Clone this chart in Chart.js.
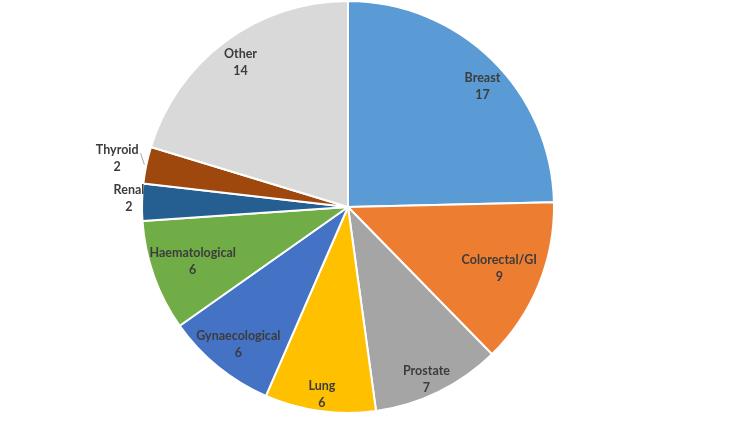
<!DOCTYPE html>
<html>
<head>
<meta charset="utf-8">
<script src="https://cdn.jsdelivr.net/npm/chart.js@4"></script>
<style>
  html, body { margin: 0; padding: 0; background: #ffffff; }
  #wrap { width: 750px; height: 422px; }
</style>
</head>
<body>
<div id="wrap"><canvas id="pieChart" width="750" height="422"></canvas></div>
<script>
// categories and counts
const categories = ["Breast", "Colorectal/GI", "Prostate", "Lung", "Gynaecological",
                    "Haematological", "Renal", "Thyroid", "Other"];
const counts = [17, 9, 7, 6, 6, 6, 2, 2, 14];

const sliceColors = ["#5B9BD5", "#ED7D31", "#A5A5A5", "#FFC000", "#4472C4",
                     "#70AD47", "#255E91", "#9E480E", "#D9D9D9"];

// where each label sits: fraction of radius, and small angle nudge (deg)
const labelFrac = [0.876, 0.793, 0.919, 0.917, 0.853, 0.799, 1.064, 1.145, 0.873];
const labelNudge = [3.8, 0, 1.6, 0.1, -0.5, 0.2, 1.0, 0.2, -0.2];
const leaderLine = [false, false, false, false, false, false, false, true, false];

// draw the name + value inside (or beside) each slice
const sliceLabels = {
    id: "sliceLabels",
    afterDatasetsDraw(chart) {
        const ctx = chart.ctx;
        const arcs = chart.getDatasetMeta(0).data;
        ctx.save();
        ctx.font = "bold 12.5px Lato";
        ctx.fillStyle = "#3c3c3c";
        ctx.textAlign = "center";
        ctx.textBaseline = "middle";
        arcs.forEach((arc, i) => {
            const mid = (arc.startAngle + arc.endAngle) / 2 + labelNudge[i] * Math.PI / 180;
            const r = arc.outerRadius * labelFrac[i];
            const x = arc.x + Math.cos(mid) * r;
            const y = arc.y + Math.sin(mid) * r;
            ctx.fillText(categories[i], x, y - 8.5);
            ctx.fillText(String(counts[i]), x, y + 8.5);

            if (leaderLine[i]) {
                const w = ctx.measureText(categories[i]).width;
                const m = (arc.startAngle + arc.endAngle) / 2;
                ctx.strokeStyle = "#A6A6A6";
                ctx.lineWidth = 1;
                ctx.beginPath();
                ctx.moveTo(x + w / 2 + 2, y - 5);
                ctx.lineTo(arc.x + Math.cos(m) * (arc.outerRadius + 2), arc.y + Math.sin(m) * (arc.outerRadius + 2));
                ctx.stroke();
            }
        });
        ctx.restore();
    }
};

const ctx = document.getElementById("pieChart").getContext("2d");

new Chart(ctx, {
    type: "pie",
    data: {
        labels: categories,
        datasets: [{
            data: counts,
            backgroundColor: sliceColors,
            borderColor: "#ffffff",
            borderWidth: 2
        }]
    },
    options: {
        responsive: false,
        animation: false,
        layout: { padding: { left: 0, right: 54, top: 0, bottom: 8 } },
        plugins: {
            legend: { display: false },
            tooltip: { enabled: false }
        }
    },
    plugins: [sliceLabels]
});
</script>
</body>
</html>
